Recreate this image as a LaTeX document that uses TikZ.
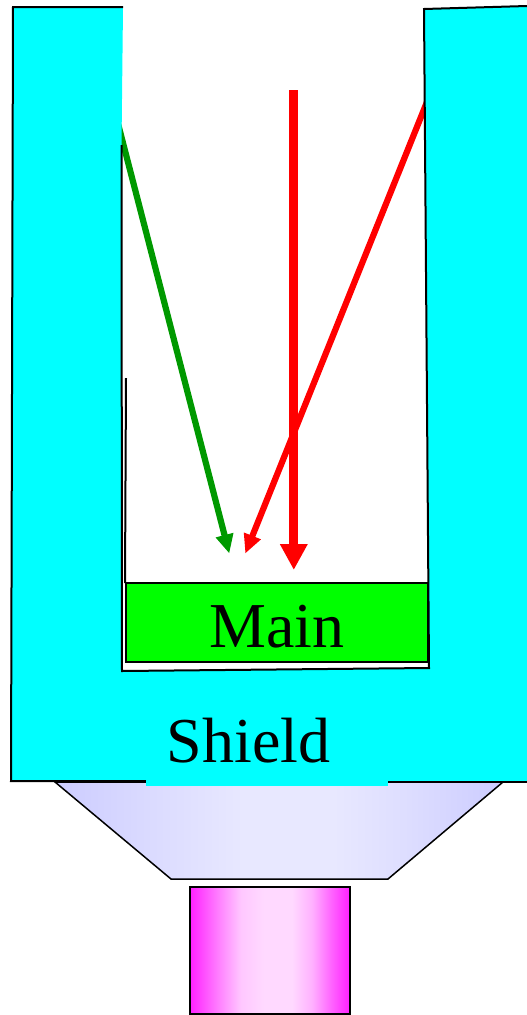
\documentclass[tikz,border=0pt]{standalone}
\usepackage{fontspec}
\setmainfont{Liberation Serif}
\usetikzlibrary{arrows.meta}
\pgfdeclarehorizontalshading{funnelshade}{100bp}{rgb(0bp)=(0.8,0.8,1); rgb(25bp)=(0.8,0.8,1); rgb(38bp)=(0.87,0.87,1); rgb(46bp)=(0.91,0.91,1); rgb(56bp)=(0.91,0.91,1); rgb(64bp)=(0.87,0.87,1); rgb(75bp)=(0.8,0.8,1); rgb(100bp)=(0.8,0.8,1)}
\pgfdeclarehorizontalshading{tubeshade}{100bp}{rgb(0bp)=(1,0.12,1); rgb(25bp)=(1,0.12,1); rgb(34bp)=(1,0.5,1); rgb(41bp)=(1,0.78,1); rgb(48bp)=(1,0.85,1); rgb(57bp)=(1,0.85,1); rgb(63bp)=(1,0.7,1); rgb(69bp)=(1,0.4,1); rgb(75bp)=(1,0.12,1); rgb(100bp)=(1,0.12,1)}
\definecolor{shieldcyan}{RGB}{0,255,255}
\definecolor{maingreen}{RGB}{0,255,0}
\definecolor{raygreen}{RGB}{0,153,0}
\definecolor{rayred}{RGB}{255,0,0}
\tikzset{
  x=1pt,y=-1pt,
  outline/.style={draw=black,line width=2pt,line join=miter},
  thinray/.style={line width=6.2pt,-{Triangle[length=19pt,width=17pt]}},
  thickray/.style={line width=9pt,rayred,-{Triangle[length=26pt,width=26pt]}},
  bigtext/.style={font=\fontsize{64}{64}\selectfont,inner sep=0pt,anchor=base}
}
\begin{document}
\begin{tikzpicture}
\useasboundingbox (0,0) rectangle (527,1015);
% rays (their starts are hidden under the shield)
\coordinate (gstart) at (115,112);
\coordinate (gend) at (229.3,553.5);
\coordinate (rstart) at (431,92);
\coordinate (rend) at (245.3,553.5);
\coordinate (vstart) at (293.8,90);
\coordinate (vend) at (293.8,570);
\draw[thinray,raygreen] (gstart) -- (gend);
\draw[thinray,rayred] (rstart) -- (rend);
\draw[thickray] (vstart) -- (vend);
% shield body
\fill[shieldcyan] (13,7) -- (123,7) -- (121.5,145) -- (122,671) -- (429,668) -- (424,9) -- (527,6) -- (527,782) -- (11,781) -- cycle;
\draw[outline] (123,7) -- (13,7) -- (11,781) -- (146,781);
\draw[outline] (388,782) -- (527,782);
\draw[outline] (527,6) -- (424,9) -- (429,668) -- (122,671) -- (121.5,145);
\draw[draw=black,line width=2pt] (126,378) -- (125,583);
% main crystal
\path[outline,fill=maingreen] (125.5,583) rectangle (428,662);
\node[bigtext] (main) at (277,647) {Main};
% funnel and tube
\path[draw=black,line width=1.5pt,line join=miter,shade,shading=funnelshade] (55,782) -- (503,782) -- (388,879) -- (171,879) -- cycle;
\fill[shieldcyan] (146,770) rectangle (388,786);
\node[bigtext] (shield) at (248.5,762) {Shield};
\path[outline,shade,shading=tubeshade] (189.5,887) rectangle (350,1014);
\end{tikzpicture}
\end{document}
